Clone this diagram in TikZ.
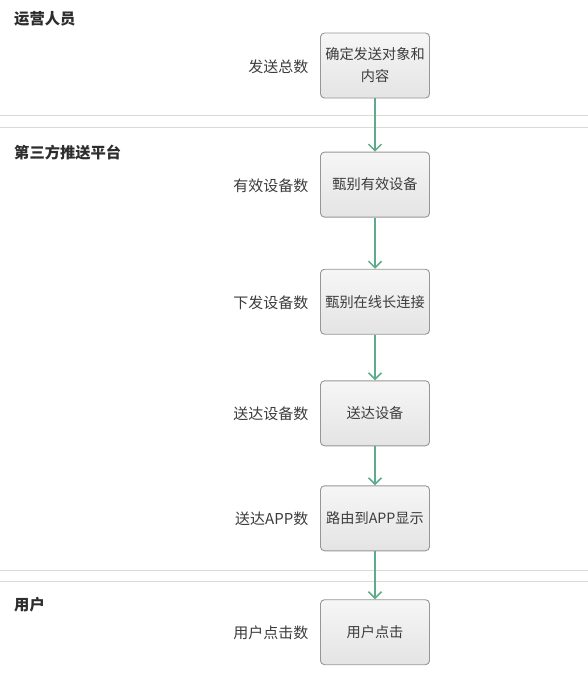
\documentclass[tikz,border=0pt]{standalone}
\usepackage{fontspec}
\setmainfont{Noto Sans CJK SC}
\usetikzlibrary{arrows.meta}
\definecolor{laneline}{RGB}{218,218,218}
\definecolor{boxline}{RGB}{150,150,150}
\definecolor{boxtop}{RGB}{246,246,246}
\definecolor{boxbot}{RGB}{228,228,228}
\definecolor{flow}{RGB}{94,171,140}
\definecolor{txt}{RGB}{60,60,60}
\definecolor{headtxt}{RGB}{45,45,45}
\tikzset{
  stepbox/.style={draw=boxline, line width=0.9pt, rounded corners=4pt,
    top color=boxtop, bottom color=boxbot, minimum width=109pt, minimum height=65pt,
    inner sep=2pt, align=center, text=txt, font=\fontsize{14.2}{22}\selectfont},
  metric/.style={anchor=east, text=txt, inner sep=0pt, font=\fontsize{15}{18}\selectfont},
  lanehead/.style={anchor=west, text=headtxt, inner sep=0pt, font=\bfseries\fontsize{15.3}{18}\selectfont},
  lanesep/.style={draw=laneline, line width=0.8pt},
  flowarrow/.style={draw=flow, line width=1.8pt, -{Straight Barb[length=6.5pt,width=13pt,line width=1.5pt]}}
}
\begin{document}
\begin{tikzpicture}[x=1pt,y=-1pt]
\useasboundingbox (0,0) rectangle (588,685);
% lane separators
\coordinate (s1l) at (0,115.5); \coordinate (s1r) at (588,115.5);
\coordinate (s2l) at (0,127.5); \coordinate (s2r) at (588,127.5);
\coordinate (s3l) at (0,570); \coordinate (s3r) at (588,570);
\coordinate (s4l) at (0,581.7); \coordinate (s4r) at (588,581.7);
\draw[lanesep] (s1l) -- (s1r);
\draw[lanesep] (s2l) -- (s2r);
\draw[lanesep] (s3l) -- (s3r);
\draw[lanesep] (s4l) -- (s4r);
% lane headings
\node[lanehead] (h1) at (14,18.5) {运营人员};
\node[lanehead] (h2) at (14,153) {第三方推送平台};
\node[lanehead] (h3) at (14,604.5) {用户};
% boxes
\node[stepbox] (b1) at (375,65.5) {确定发送对象和\\内容};
\node[stepbox] (b2) at (375,184.6) {甄别有效设备};
\node[stepbox] (b3) at (375,301.7) {甄别在线长连接};
\node[stepbox] (b4) at (375,413.3) {送达设备};
\node[stepbox] (b5) at (375,518.3) {路由到APP显示};
\node[stepbox] (b6) at (375,632.2) {用户点击};
% metrics
\node[metric] (m1) at (308.5,66.5) {发送总数};
\node[metric] (m2) at (308.5,185.5) {有效设备数};
\node[metric] (m3) at (308.5,302.5) {下发设备数};
\node[metric] (m4) at (308.5,414) {送达设备数};
\node[metric] (m5) at (308.5,519) {送达APP数};
\node[metric] (m6) at (308.5,633) {用户点击数};
% arrows
\draw[flowarrow] (b1) -- (b2);
\draw[flowarrow] (b2) -- (b3);
\draw[flowarrow] (b3) -- (b4);
\draw[flowarrow] (b4) -- (b5);
\draw[flowarrow] (b5) -- (b6);
\end{tikzpicture}
\end{document}
